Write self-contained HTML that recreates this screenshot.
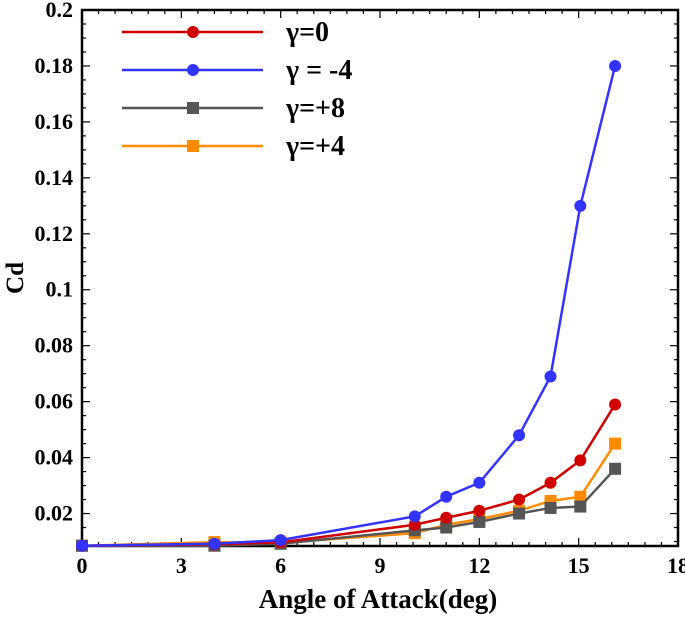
<!DOCTYPE html>
<html><head><meta charset="utf-8"><style>
body{margin:0;background:#fff;}
svg text{font-family:"Liberation Serif",serif;font-weight:bold;fill:#000;}
</style></head><body>
<svg id="chart" width="685" height="615" xmlns="http://www.w3.org/2000/svg"></svg>
<script>
const alphas=[0,4,6,10.05,11.0,12.0,13.2,14.15,15.05,16.1];
const cdGamma0=[0.0085,0.009,0.0097,0.016,0.0185,0.021,0.025,0.031,0.039,0.059];
const cdGammaM4=[0.0085,0.0092,0.0105,0.019,0.026,0.031,0.048,0.069,0.130,0.180];
const cdGammaP8=[0.0085,0.0085,0.0092,0.014,0.015,0.017,0.020,0.022,0.0225,0.036];
const cdGammaP4=[0.0085,0.0098,0.0095,0.013,0.016,0.018,0.021,0.0245,0.026,0.045];
const xTicks=[0,3,6,9,12,15,18];
const yTicks=[0.02,0.04,0.06,0.08,0.1,0.12,0.14,0.16,0.18,0.2];
const yTickLabels=["0.02","0.04","0.06","0.08","0.1","0.12","0.14","0.16","0.18","0.2"];
const seriesNames=["γ=0","γ = -4","γ=+8","γ=+4"];

const L=82,R=678,T=10,B=546,XMIN=0,XMAX=18,YMIN=0.0084,YMAX=0.2;
const sx=v=>L+(v-XMIN)/(XMAX-XMIN)*(R-L);
const sy=v=>B-(v-YMIN)/(YMAX-YMIN)*(B-T);
const svg=document.getElementById('chart');
const NS="http://www.w3.org/2000/svg";
function mk(t,a,p){const e=document.createElementNS(NS,t);for(const k in a)e.setAttribute(k,a[k]);(p||svg).appendChild(e);return e;}

const tg=mk('g',{});


for(let v=0;v<=18.001;v+=0.5){const x=sx(v);const major=Math.abs(v/3-Math.round(v/3))<1e-6;const len=major?8:4;
 mk('line',{x1:x,y1:B,x2:x,y2:B-len,stroke:'#000','stroke-width':1.2},tg);
 mk('line',{x1:x,y1:T,x2:x,y2:T+len,stroke:'#000','stroke-width':1.2},tg);}
for(let v=0.01;v<=0.2001;v+=0.005){const y=sy(v);const major=Math.abs(v/0.02-Math.round(v/0.02))<1e-6;const len=major?8:4;
 mk('line',{x1:L,y1:y,x2:L+len,y2:y,stroke:'#000','stroke-width':1.2},tg);
 mk('line',{x1:R,y1:y,x2:R-len,y2:y,stroke:'#000','stroke-width':1.2},tg);}
xTicks.forEach(v=>{const t=mk('text',{x:sx(v),y:573,'text-anchor':'middle','font-size':22});t.textContent=v;
 });
yTicks.forEach((v,i)=>{const t=mk('text',{x:73,y:sy(v)+7,'text-anchor':'end','font-size':22});t.textContent=yTickLabels[i];
 });

const frame=mk('rect',{x:L,y:T,width:R-L,height:B-T,fill:'none',stroke:'#000','stroke-width':2.5});



const xt=mk('text',{x:378,y:608,'text-anchor':'middle','font-size':27});xt.textContent="Angle of Attack(deg)";

const yt=mk('text',{x:0,y:0,'text-anchor':'middle','font-size':25,transform:'translate(23,278) rotate(-90)'});yt.textContent="Cd";


const series=[[cdGamma0,'#d00000','circle'],[cdGammaM4,'#3333ff','circle'],[cdGammaP8,'#555555','square'],[cdGammaP4,'#ff8c00','square']];
function marker(g,x,y,col,shape){
 if(shape==='circle') return mk('circle',{cx:x,cy:y,r:6,fill:col},g);
 return mk('rect',{x:x-6,y:y-6,width:12,height:12,fill:col},g);}
[3,2,0,1].forEach(i=>{const [vals,col,shape]=series[i];const g=mk('g',{});
 
 const pts=alphas.map((a,j)=>sx(a)+','+sy(vals[j])).join(' ');
 mk('polyline',{points:pts,fill:'none',stroke:col,'stroke-width':2.5},g);
 alphas.forEach((a,j)=>{const m=marker(g,sx(a),sy(vals[j]),col,shape);
  });});

const lg=mk('g',{});


series.forEach(([v,col,shape],i)=>{const y=32+i*38;const e=mk('g',{},lg);
 
 mk('line',{x1:122,y1:y,x2:263,y2:y,stroke:col,'stroke-width':2.5},e);
 marker(e,193,y,col,shape);
 const t=mk('text',{x:286,y:y+9,'font-size':28},e);t.textContent=seriesNames[i];});
</script>
</body></html>
